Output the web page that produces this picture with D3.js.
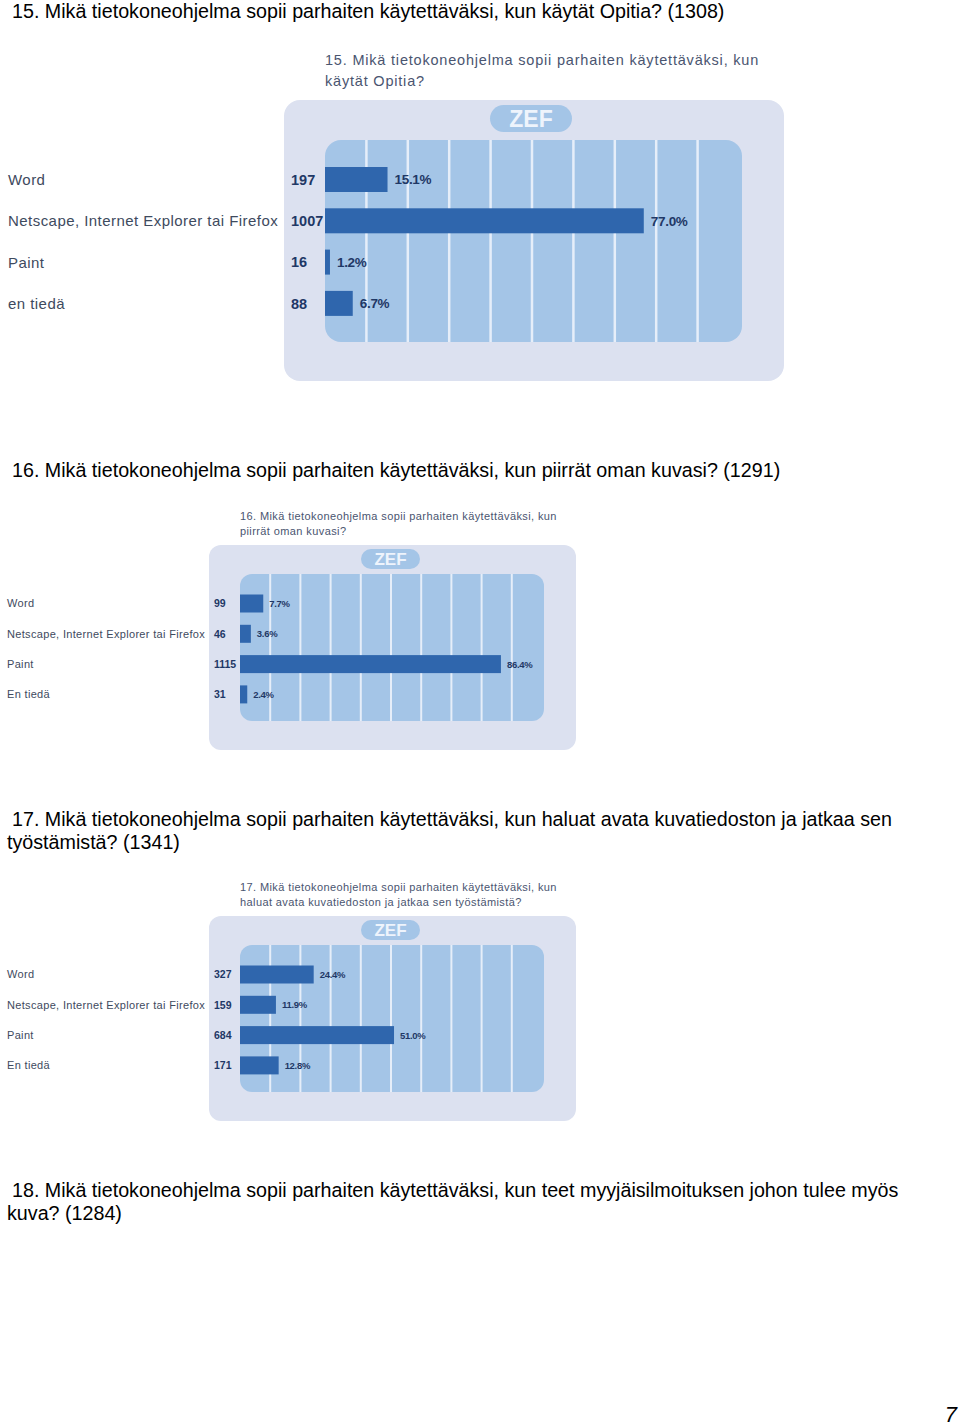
<!DOCTYPE html>
<html>
<head>
<meta charset="utf-8">
<script src="https://cdn.jsdelivr.net/npm/d3@7"></script>
<style>
  html, body { margin: 0; padding: 0; background: #fff; }
  svg { display: block; }
</style>
</head>
<body>
<svg id="page" width="960" height="1426"></svg>
<script>
// ---- Data ----
const headings15 = ["15. Mikä tietokoneohjelma sopii parhaiten käytettäväksi, kun käytät Opitia? (1308)"];
const headings16 = ["16. Mikä tietokoneohjelma sopii parhaiten käytettäväksi, kun piirrät oman kuvasi? (1291)"];
const headings17 = ["17. Mikä tietokoneohjelma sopii parhaiten käytettäväksi, kun haluat avata kuvatiedoston ja jatkaa sen", "työstämistä? (1341)"];
const headings18 = ["18. Mikä tietokoneohjelma sopii parhaiten käytettäväksi, kun teet myyjäisilmoituksen johon tulee myös", "kuva? (1284)"];

const titles15 = ["15. Mikä tietokoneohjelma sopii parhaiten käytettäväksi, kun", "käytät Opitia?"];
const categories15 = ["Word", "Netscape, Internet Explorer tai Firefox", "Paint", "en tiedä"];
const counts15 = [197, 1007, 16, 88];
const percents15 = [15.1, 77.0, 1.2, 6.7];

const titles16 = ["16. Mikä tietokoneohjelma sopii parhaiten käytettäväksi, kun", "piirrät oman kuvasi?"];
const categories16 = ["Word", "Netscape, Internet Explorer tai Firefox", "Paint", "En tiedä"];
const counts16 = [99, 46, 1115, 31];
const percents16 = [7.7, 3.6, 86.4, 2.4];

const titles17 = ["17. Mikä tietokoneohjelma sopii parhaiten käytettäväksi, kun", "haluat avata kuvatiedoston ja jatkaa sen työstämistä?"];
const categories17 = ["Word", "Netscape, Internet Explorer tai Firefox", "Paint", "En tiedä"];
const counts17 = [327, 159, 684, 171];
const percents17 = [24.4, 11.9, 51.0, 12.8];

const gridTicks = [10, 20, 30, 40, 50, 60, 70, 80, 90];
const pageNumber = "7";

// ---- Styles ----
const C = {
  outer: "#dce1f0",
  inner: "#a4c5e7",
  grid: "#e6eef9",
  bar: "#2f66ad",
  value: "#1f3866",
  cat: "#3e4a5e",
  title: "#4a5570",
  zefBg: "#a4c5e7",
  zefText: "#eef4fc"
};
const FONT = "'Liberation Sans', Arial, sans-serif";

const svg = d3.select("#page");
svg.append("rect").attr("width", 960).attr("height", 1426).attr("fill", "#fff");

function heading(lines, x0, x1, y, lh) {
  lines.forEach((t, i) => {
    svg.append("text")
      .attr("x", i === 0 ? x0 : x1).attr("y", y + i * lh)
      .attr("font-family", FONT).attr("font-size", 19.7)
      .attr("fill", "#000").text(t);
  });
}

heading(headings15, 12, 7, 18, 23);
heading(headings16, 12, 7, 477, 23);
heading(headings17, 12, 7, 826, 23);
heading(headings18, 12, 7, 1197, 23);

svg.append("text").attr("x", 957).attr("y", 1422).attr("text-anchor", "end")
  .attr("font-family", FONT).attr("font-size", 22).attr("font-style", "italic")
  .attr("fill", "#000").text(pageNumber);

function chart(cfg, titles, cats, counts, pcts) {
  const g = svg.append("g");
  // titles
  titles.forEach((t, i) => {
    g.append("text").attr("x", cfg.titleX).attr("y", cfg.titleY + i * cfg.titleLH)
      .attr("font-family", FONT).attr("font-size", cfg.titleFS)
      .attr("letter-spacing", cfg.titleLS)
      .attr("fill", C.title).text(t);
  });
  // outer panel
  g.append("rect").attr("x", cfg.outer.x).attr("y", cfg.outer.y)
    .attr("width", cfg.outer.w).attr("height", cfg.outer.h)
    .attr("rx", cfg.outer.r).attr("fill", C.outer);
  // ZEF pill
  g.append("rect").attr("x", cfg.zef.x).attr("y", cfg.zef.y)
    .attr("width", cfg.zef.w).attr("height", cfg.zef.h)
    .attr("rx", cfg.zef.h / 2).attr("fill", C.zefBg);
  g.append("text").attr("x", cfg.zef.x + cfg.zef.w / 2).attr("y", cfg.zef.y + cfg.zef.h / 2)
    .attr("dy", "0.36em").attr("text-anchor", "middle")
    .attr("font-family", FONT).attr("font-weight", "bold")
    .attr("font-size", cfg.zef.fs).attr("fill", C.zefText).text("ZEF");
  // inner panel
  g.append("rect").attr("x", cfg.inner.x).attr("y", cfg.inner.y)
    .attr("width", cfg.inner.w).attr("height", cfg.inner.h)
    .attr("rx", cfg.inner.r).attr("fill", C.inner);

  const x = d3.scaleLinear().domain([0, 100]).range([cfg.inner.x, cfg.xMax]);
  const y = d3.scaleBand().domain(cats)
    .range([cfg.barTop, cfg.barTop + 3 * cfg.step + cfg.barH])
    .paddingInner(1 - cfg.barH / cfg.step).paddingOuter(0);

  // grid lines
  g.selectAll(".grid").data(gridTicks).join("line")
    .attr("x1", d => x(d)).attr("x2", d => x(d))
    .attr("y1", cfg.inner.y).attr("y2", cfg.inner.y + cfg.inner.h)
    .attr("stroke", C.grid).attr("stroke-width", cfg.gridW);

  const rows = cats.map((c, i) => ({ c, n: counts[i], p: pcts[i] }));
  // bars
  g.selectAll(".bar").data(rows).join("rect")
    .attr("x", x(0)).attr("y", d => y(d.c))
    .attr("width", d => x(d.p) - x(0)).attr("height", y.bandwidth())
    .attr("fill", C.bar);
  // category labels
  g.selectAll(".cat").data(rows).join("text")
    .attr("x", cfg.catX).attr("y", d => y(d.c) + y.bandwidth() / 2).attr("dy", "0.36em")
    .attr("font-family", FONT).attr("font-size", cfg.catFS)
    .attr("letter-spacing", cfg.catLS)
    .attr("fill", C.cat).text(d => d.c);
  // counts
  g.selectAll(".cnt").data(rows).join("text")
    .attr("x", cfg.countX).attr("y", d => y(d.c) + y.bandwidth() / 2).attr("dy", "0.36em")
    .attr("font-family", FONT).attr("font-size", cfg.countFS).attr("font-weight", "bold")
    .attr("fill", C.value).text(d => d.n);
  // percents
  g.selectAll(".pct").data(rows).join("text")
    .attr("x", d => x(d.p) + cfg.pctGap).attr("y", d => y(d.c) + y.bandwidth() / 2).attr("dy", "0.36em")
    .attr("font-family", FONT).attr("font-size", cfg.pctFS).attr("font-weight", "bold")
    .attr("letter-spacing", -0.3)
    .attr("fill", C.value).text(d => d.p.toFixed(1) + "%");
}

const big = {
  titleX: 325, titleY: 65, titleLH: 21, titleFS: 14.5, titleLS: 0.8,
  outer: { x: 284, y: 100, w: 500, h: 281, r: 16 },
  zef: { x: 490, y: 105, w: 82, h: 27, fs: 23 },
  inner: { x: 325, y: 140, w: 417, h: 202, r: 16 },
  xMax: 739, barTop: 167, step: 41.3, barH: 25, gridW: 2.5,
  catX: 8, catFS: 15, catLS: 0.45, countX: 291, countFS: 14.5, pctGap: 7, pctFS: 13.5
};
const small = (dy) => ({
  titleX: 240, titleY: 520 + dy, titleLH: 15, titleFS: 11, titleLS: 0.4,
  outer: { x: 209, y: 545 + dy, w: 367, h: 205, r: 12 },
  zef: { x: 361, y: 549 + dy, w: 59, h: 20, fs: 17 },
  inner: { x: 240, y: 574 + dy, w: 304, h: 147, r: 12 },
  xMax: 542, barTop: 594.5 + dy, step: 30.3, barH: 18, gridW: 2,
  catX: 7, catFS: 11, catLS: 0.33, countX: 214, countFS: 10.5, pctGap: 6, pctFS: 9.5
});

chart(big, titles15, categories15, counts15, percents15);
chart(small(0), titles16, categories16, counts16, percents16);
chart(small(371), titles17, categories17, counts17, percents17);
</script>
</body>
</html>
